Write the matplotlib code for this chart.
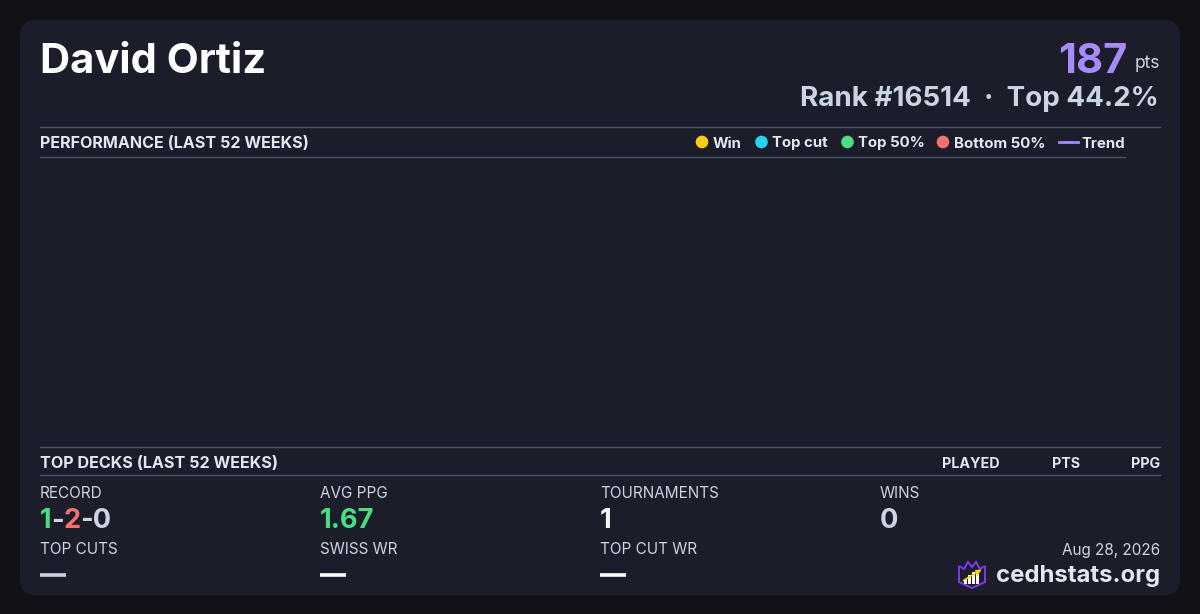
import matplotlib
matplotlib.use('Agg')
import matplotlib.pyplot as plt
from matplotlib.patches import FancyBboxPatch, Polygon, Rectangle, Circle

plt.rcParams['font.family'] = ['Inter', 'DejaVu Sans']

# ---- data ----
player = 'David Ortiz'
points = 187
rank = 16514
top_pct = 44.2
legend_labels = ['Win', 'Top cut', 'Top 50%', 'Bottom 50%', 'Trend']
legend_colors = ['#facc15', '#22d3ee', '#4ade80', '#f87171', '#a78bfa']
deck_columns = ['PLAYED', 'PTS', 'PPG']
stat_labels_top = ['RECORD', 'AVG PPG', 'TOURNAMENTS', 'WINS']
stat_labels_bottom = ['TOP CUTS', 'SWISS WR', 'TOP CUT WR']
stat_values_bottom = ['\u2014', '\u2014', '\u2014']
record = [1, 2, 0]   # wins - losses - draws
avg_ppg = 1.67
tournaments = 1
wins = 0
date_str = 'Aug 28, 2026'
site = 'cedhstats.org'
# no tournament results in the window -> empty performance chart
perf_weeks = []
perf_points = []

BG = '#111217'
CARD = '#1b1d2a'
LINE = '#4a5568'
HEAD = '#e2e8f0'
LABEL = '#cbd5e1'

fig = plt.figure(figsize=(12, 6.14), dpi=100, facecolor=BG)
ax = fig.add_axes([0, 0, 1, 1])
ax.set_xlim(0, 1200)
ax.set_ylim(614, 0)
ax.axis('off')

card = FancyBboxPatch((20, 20), 1160, 575, boxstyle='round,pad=0,rounding_size=16',
                      facecolor=CARD, edgecolor='none')
ax.add_patch(card)

r = fig.canvas.get_renderer()

def width_of(t):
    return t.get_window_extent(renderer=r).width

# ---- header ----
ax.text(40, 73, player, fontsize=30, fontweight='bold', color='white', va='baseline')
t_pts = ax.text(1160, 68, 'pts', fontsize=12.5, color=LABEL, va='baseline', ha='right')
ax.text(1160 - width_of(t_pts) - 7, 73, str(points), fontsize=30, fontweight='bold',
        color='#a78bfa', va='baseline', ha='right')
ax.text(1159, 106, 'Rank #%d  \u00b7  Top %.1f%%' % (rank, top_pct), fontsize=20,
        fontweight='bold', color=LABEL, va='baseline', ha='right')

# ---- performance section ----
ax.plot([40, 1160], [126.5, 126.5], color=LINE, lw=1)
ax.text(40, 148, 'PERFORMANCE (LAST 52 WEEKS)', fontsize=11.6, fontweight='bold',
        color=HEAD, va='baseline')
ax.plot([40, 1125], [156.5, 156.5], color=LINE, lw=1)

leg_x = [702, 761.5, 847.5, 943, 1059]
for x, lab, col in zip(leg_x, legend_labels, legend_colors):
    if lab == 'Trend':
        ax.plot([x, x + 19], [142, 142], color=col, lw=2)
        ax.text(x + 22.5, 147.5, lab, fontsize=10.8, fontweight='bold', color=HEAD, va='baseline')
    else:
        ax.add_patch(Circle((x, 142), 6.3, facecolor=col, edgecolor='none'))
        ax.text(x + 10.5, 147.5, lab, fontsize=10.8, fontweight='bold', color=HEAD, va='baseline')

perf_ax = fig.add_axes([40 / 1200, (614 - 446) / 614, 1085 / 1200, 290 / 614])
perf_ax.set_facecolor('none')
perf_ax.plot(perf_weeks, perf_points, color=legend_colors[4])
perf_ax.axis('off')

# ---- top decks ----
ax.plot([40, 1160], [446.5, 446.5], color=LINE, lw=1)
ax.text(40, 467.5, 'TOP DECKS (LAST 52 WEEKS)', fontsize=11.6, fontweight='bold',
        color=HEAD, va='baseline')
for x, lab in zip([1000, 1080, 1160], deck_columns):
    ax.text(x, 467.5, lab, fontsize=10.3, fontweight='bold', color=HEAD, va='baseline', ha='right')
ax.plot([40, 1160], [474.5, 474.5], color=LINE, lw=1)

# ---- stats grid ----
cols = [40, 320, 600, 880]
for x, lab in zip(cols, stat_labels_top):
    ax.text(x, 497.5, lab, fontsize=11, color=LABEL, va='baseline')
for x, lab in zip(cols, stat_labels_bottom):
    ax.text(x, 553.5, lab, fontsize=11, color=LABEL, va='baseline')

# record with coloured pieces
pieces = [(str(record[0]), '#4ade80'), ('-', LABEL), (str(record[1]), '#f87171'),
          ('-' + str(record[2]), LABEL)]
x = 40
for s, c in pieces:
    t = ax.text(x, 528.5, s, fontsize=19.5, fontweight='bold', color=c, va='baseline')
    x += width_of(t) - 0.5
ax.text(320, 528.5, '%.2f' % avg_ppg, fontsize=19.7, fontweight='bold', color='#4ade80', va='baseline')
ax.text(600, 528.5, str(tournaments), fontsize=19.7, fontweight='bold', color='#f1f5f9', va='baseline')
ax.text(880, 528.5, str(wins), fontsize=19.7, fontweight='bold', color=LABEL, va='baseline')

dash_colors = [LABEL, 'white', 'white']
for x, v, c in zip(cols, stat_values_bottom, dash_colors):
    ax.plot([x, x + 26], [575.3, 575.3], color=c, lw=2.6, solid_capstyle='butt')

# ---- footer ----
ax.text(1160, 555, date_str, fontsize=11, color=LABEL, va='baseline', ha='right')
t_site = ax.text(1160, 582, site, fontsize=17.2, fontweight='bold', color=HEAD,
                 va='baseline', ha='right')

# logo: shield with crown, bars and arrow
lx, ly = 958, 560
shield = [(1, 6), (6, 9), (10, 2), (14, 7), (18, 2), (22, 9), (27, 6),
          (27, 22), (14, 28), (1, 22)]
ax.add_patch(Polygon([(lx + a, ly + b) for a, b in shield], closed=True,
                     facecolor='#1b1d2a', edgecolor='#7c3aed', lw=1.4))
for bx, bh in [(6, 5), (10, 9), (14, 12), (18, 14)]:
    ax.add_patch(Rectangle((lx + bx, ly + 24 - bh), 2.6, bh, facecolor='white', edgecolor='none'))
ax.annotate('', xy=(lx + 26, ly + 8), xytext=(lx + 3, ly + 22),
            arrowprops=dict(arrowstyle='-|>', color='#facc15', lw=1.2, mutation_scale=7))

fig.savefig('out.png', dpi=100, facecolor=BG)
